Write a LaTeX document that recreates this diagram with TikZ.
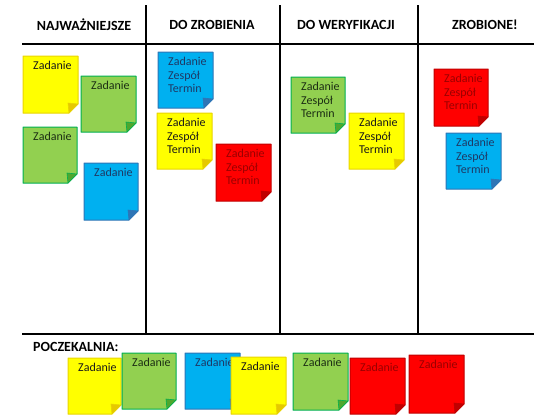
\documentclass[tikz,border=0pt]{standalone}
\usepackage{fontspec}
\setmainfont{Carlito}
\definecolor{yfill}{HTML}{FFFF00}\definecolor{yline}{HTML}{E8D400}\definecolor{yfold}{HTML}{E6C800}\definecolor{ytext}{HTML}{1A1A1A}
\definecolor{gfill}{HTML}{92D050}\definecolor{gline}{HTML}{00B050}\definecolor{gfold}{HTML}{4EA72E}\definecolor{gtext}{HTML}{1C2E14}
\definecolor{bfill}{HTML}{00B0F0}\definecolor{bline}{HTML}{2E75B6}\definecolor{bfold}{HTML}{2E75B6}\definecolor{btext}{HTML}{1F3864}
\definecolor{rfill}{HTML}{FF0000}\definecolor{rline}{HTML}{C00000}\definecolor{rfold}{HTML}{C00000}\definecolor{rtext}{HTML}{9A0000}
\tikzset{
  boardline/.style={line width=2pt, black},
  header/.style={font=\bfseries\fontsize{14}{16}\selectfont, inner sep=0pt},
  notetext/.style={font=\fontsize{12}{13.5}\selectfont, inner sep=0pt, anchor=north west, align=left},
}
% #1 name, #2 x, #3 y (top-left, px), #4 w, #5 h, #6 colour prefix, #7 text
\newcommand{\stickynote}[7]{%
  \fill[#6fill, draw=#6line, line width=1pt, line join=round]
    (#2,#3) -- ++(#4,0) -- ++(0,#5-9) -- ++(-9,9) -- (#2,#3+#5) -- cycle;
  \fill[#6fold, draw=#6line, line width=0.6pt, line join=round]
    (#2+#4,#3+#5-9) -- (#2+#4-9,#3+#5) -- (#2+#4-10,#3+#5-10) -- cycle;
  \node[notetext, text=#6text] (#1) at (#2+10,#3+5) {#7};
}
\begin{document}
\begin{tikzpicture}[x=1pt,y=-1pt]
\useasboundingbox (0,0) rectangle (560,418);
% board lines
\coordinate (tl) at (22,44); \coordinate (tr) at (534,44);
\coordinate (bl) at (22,334); \coordinate (br) at (534,334);
\draw[boardline] (tl) -- (tr);
\draw[boardline] (bl) -- (br);
\foreach \xx/\nm in {146/a,280/b,418/c}{
  \coordinate (v\nm t) at (\xx,5); \coordinate (v\nm b) at (\xx,334);
  \draw[boardline] (v\nm t) -- (v\nm b);
}
% headers
\node[header] (h1) at (84,25) {NAJWAŻNIEJSZE};
\node[header] (h2) at (212,25) {DO ZROBIENIA};
\node[header] (h3) at (346,25) {DO WERYFIKACJI};
\node[header] (h4) at (485,25) {ZROBIONE!};
\node[header, anchor=west] (h5) at (33,347) {POCZEKALNIA:};
% NAJWAZNIEJSZE
\stickynote{n1}{23}{56}{55}{57}{y}{Zadanie}
\stickynote{n2}{81}{76}{55}{56}{g}{Zadanie}
\stickynote{n3}{23}{127}{54}{56}{g}{Zadanie}
\stickynote{n4}{84}{163}{54}{57}{b}{Zadanie}
% DO ZROBIENIA
\stickynote{n5}{158}{52}{55}{56}{b}{Zadanie\\Zespół\\Termin}
\stickynote{n6}{157}{113}{55}{56}{y}{Zadanie\\Zespół\\Termin}
\stickynote{n7}{216}{144}{55}{57}{r}{Zadanie\\Zespół\\Termin}
% DO WERYFIKACJI
\stickynote{n8}{291}{77}{54}{56}{g}{Zadanie\\Zespół\\Termin}
\stickynote{n9}{349}{113}{55}{56}{y}{Zadanie\\Zespół\\Termin}
% ZROBIONE
\stickynote{n10}{434}{69}{54}{57}{r}{Zadanie\\Zespół\\Termin}
\stickynote{n11}{446}{133}{55}{56}{b}{Zadanie\\Zespół\\Termin}
% POCZEKALNIA
\stickynote{p1}{68}{358}{53}{56}{y}{Zadanie}
\stickynote{p2}{122}{353}{54}{56}{g}{Zadanie}
\stickynote{p3}{185}{353}{55}{56}{b}{Zadanie}
\stickynote{p4}{231}{357}{55}{57}{y}{Zadanie}
\stickynote{p5}{293}{353}{55}{57}{g}{Zadanie}
\stickynote{p6}{350}{358}{55}{56}{r}{Zadanie}
\stickynote{p7}{409}{355}{55}{58}{r}{Zadanie}
\end{tikzpicture}
\end{document}
